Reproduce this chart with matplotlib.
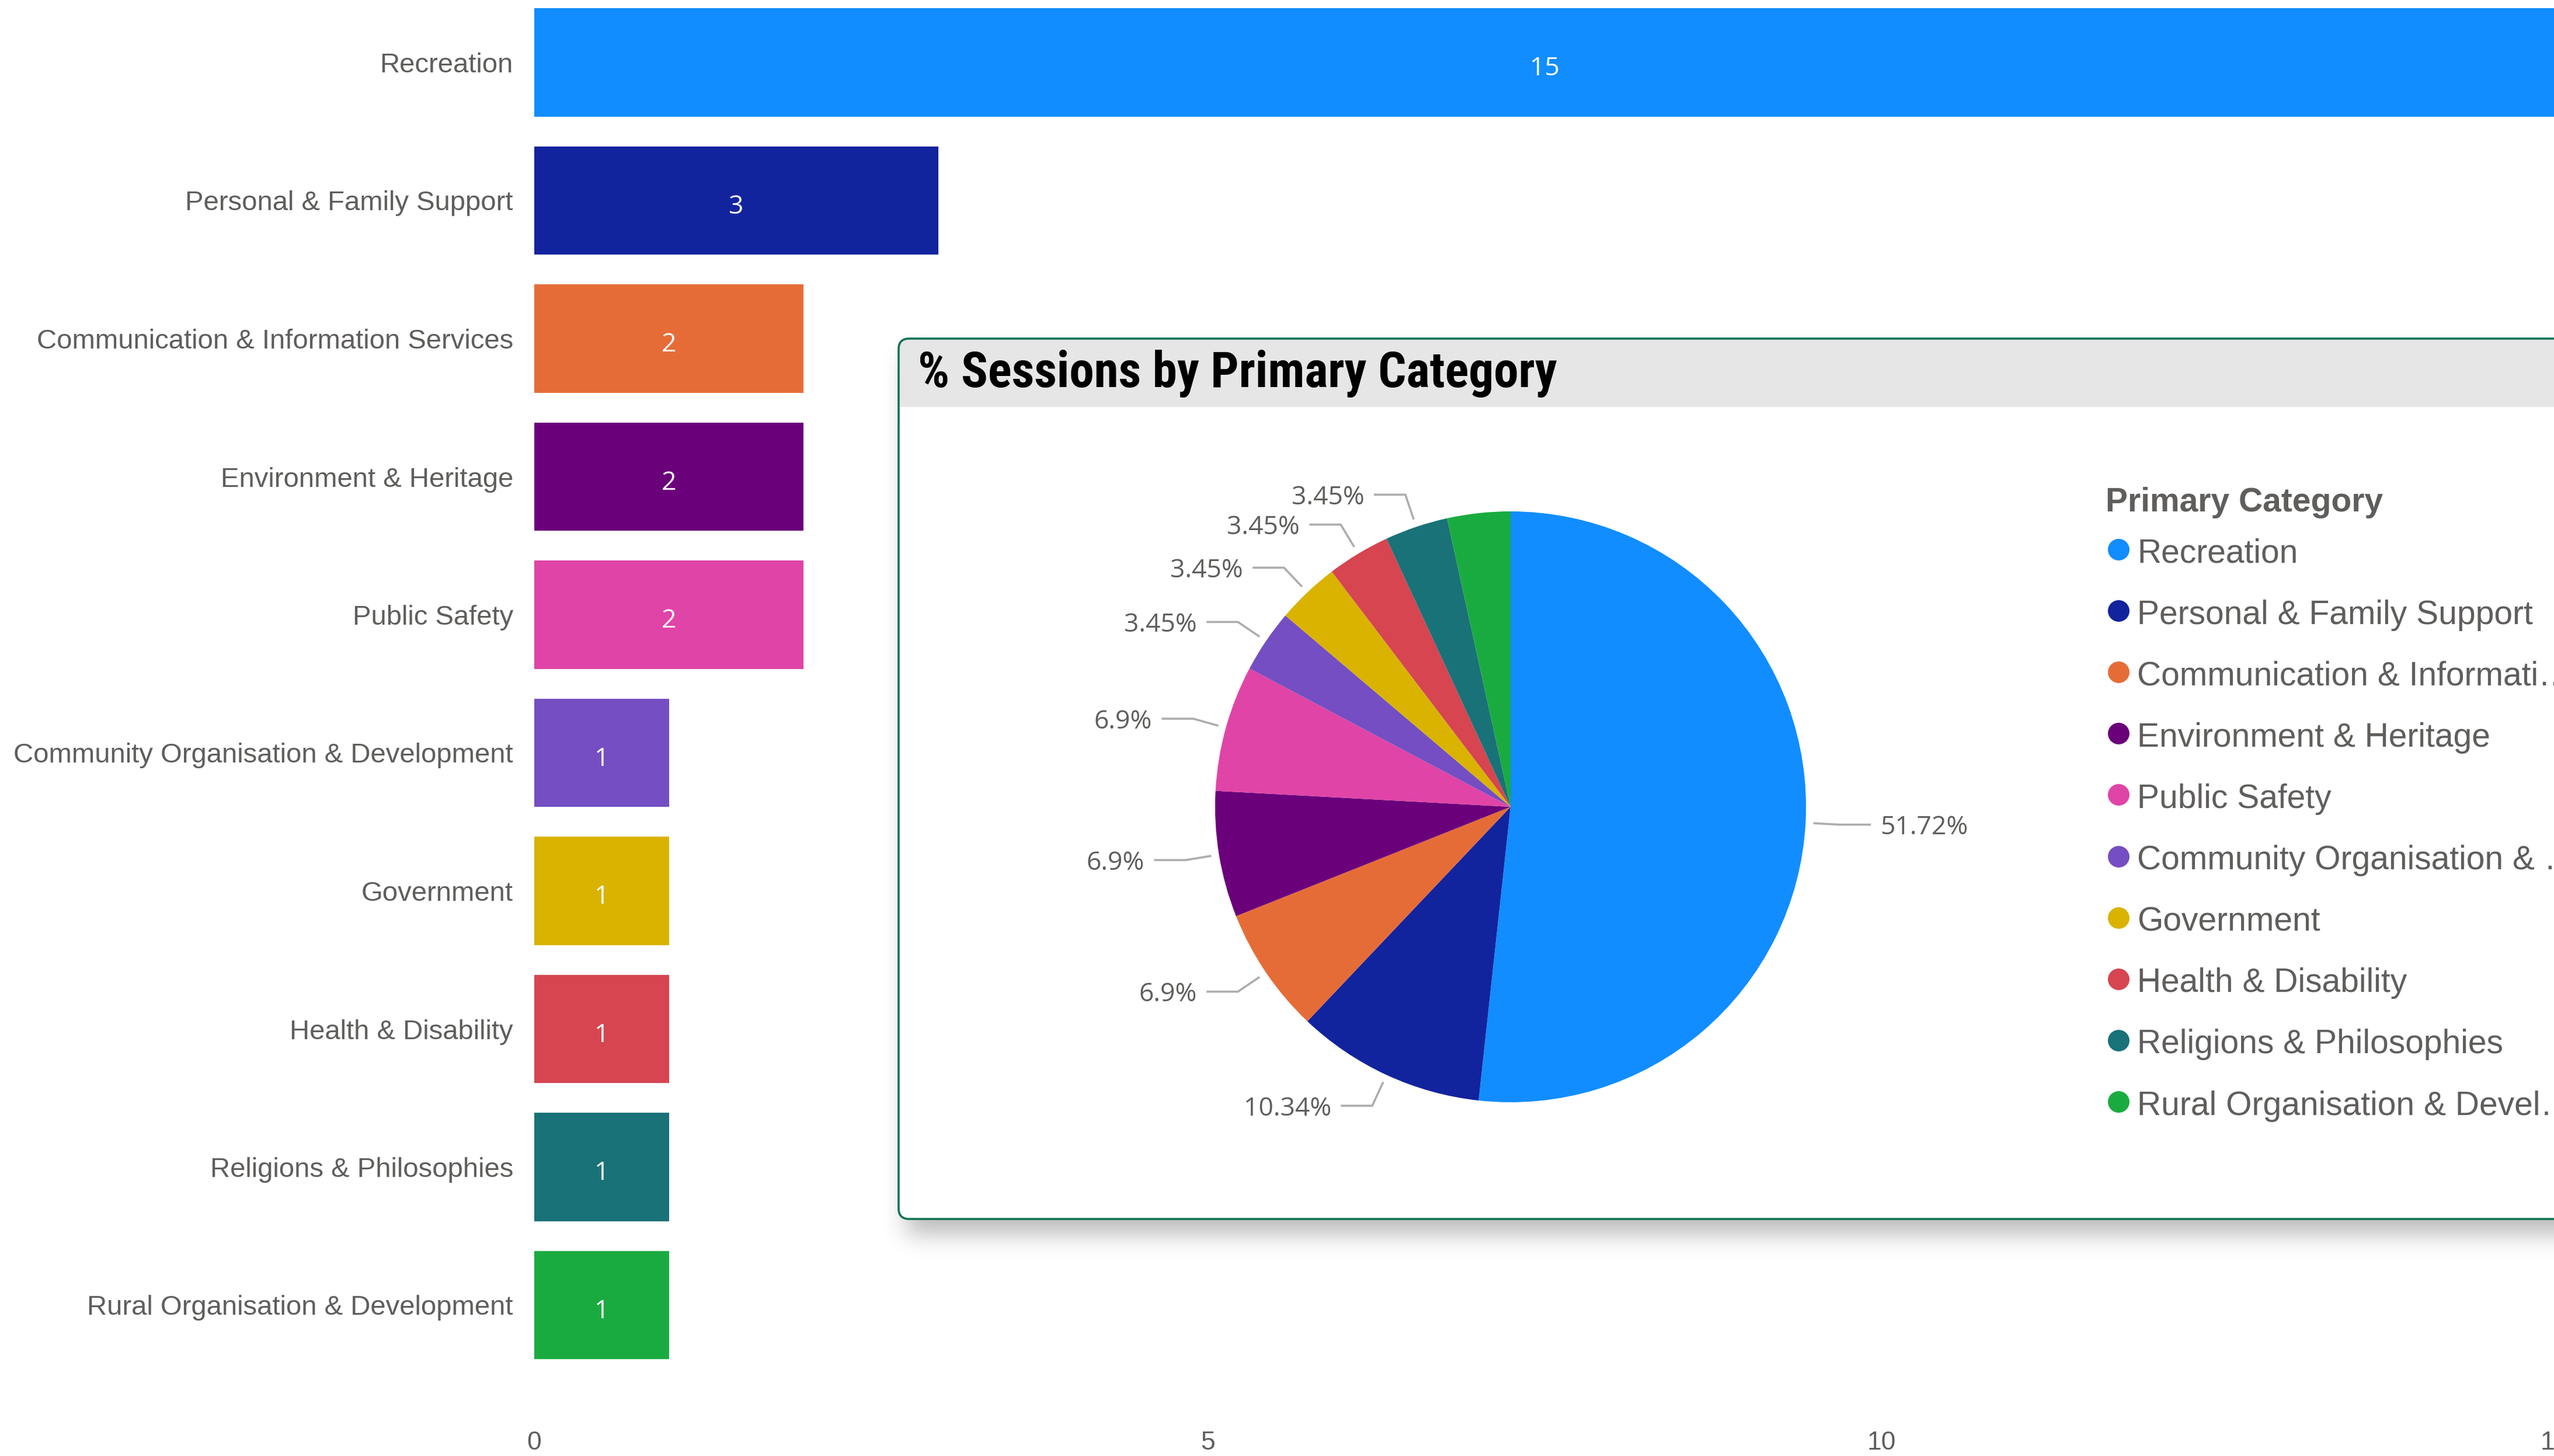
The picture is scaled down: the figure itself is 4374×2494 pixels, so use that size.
import math
import numpy as np
import matplotlib
matplotlib.use('Agg')
import matplotlib.pyplot as plt
from matplotlib.patches import FancyBboxPatch, Rectangle
from matplotlib import font_manager
from matplotlib.transforms import offset_copy

# ---------------- data ----------------
categories = ['Recreation', 'Personal & Family Support', 'Communication & Information Services',
              'Environment & Heritage', 'Public Safety', 'Community Organisation & Development',
              'Government', 'Health & Disability', 'Religions & Philosophies',
              'Rural Organisation & Development']
sessions = [15, 3, 2, 2, 2, 1, 1, 1, 1, 1]
colors = ['#118DFF', '#12239E', '#E66C37', '#6B007B', '#E044A7', '#744EC2',
          '#D9B300', '#D64550', '#197278', '#1AAB40']
legend_labels = ['Recreation', 'Personal & Family Support', 'Communication & Informati\u2026',
                 'Environment & Heritage', 'Public Safety', 'Community Organisation & \u2026',
                 'Government', 'Health & Disability', 'Religions & Philosophies',
                 'Rural Organisation & Devel\u2026']
x_ticks = [0, 5, 10, 15]
pie_title = '% Sessions by Primary Category'
legend_title = 'Primary Category'
pie_label_shown = [True, True, True, True, True, True, True, True, True, False]

# ---------------- figure ----------------
W, H = 4374, 2494
DPI = 100
fig = plt.figure(figsize=(W / DPI, H / DPI), dpi=DPI)
fig.patch.set_facecolor('white')
GRAY = '#605E5C'
LINE = '#ADADAD'


def Y(t):
    return H - t


# ---------------- bar chart ----------------
ax = fig.add_axes([915 / W, 1 - 2353.75 / H, 3460.5 / W, 2365 / H], zorder=0)
ypos = np.arange(len(categories))
ax.barh(ypos, sessions, height=0.786, color=colors, linewidth=0)
ax.set_ylim(len(categories) - 0.5, -0.5)
ax.set_xlim(0, 15)
ax.set_xticks(x_ticks)
ax.set_yticks(ypos, categories)
for s in ax.spines.values():
    s.set_visible(False)
ax.tick_params(axis='y', length=0, pad=26, labelsize=34, labelcolor=GRAY)
ax.tick_params(axis='x', length=0, pad=70, labelsize=32, labelcolor=GRAY)
for lbl in ax.get_yticklabels() + ax.get_xticklabels():
    lbl.set_fontfamily('Liberation Sans')
val_tr = offset_copy(ax.transData, fig=fig, x=0, y=-4, units='points')
for yi, v in zip(ypos, sessions):
    ax.text(v / 2, yi, str(v), color='white', ha='center', va='center_baseline',
            fontsize=32, family='Open Sans', transform=val_tr)

# ---------------- overlay (pixel coordinates) ----------------
ov = fig.add_axes([0, 0, 1, 1], zorder=5)
ov.set_xlim(0, W)
ov.set_ylim(0, H)
ov.axis('off')

px0, px1 = 1539, 4650
ptop, pbot = 580, 2088

# shadow
step = 4
sx = np.arange(0, W, step) + step / 2
sy = np.arange(0, H, step) + step / 2
erf = np.vectorize(math.erf)
sig = 20.0


def band(c, a, b, s):
    return 0.5 * (erf((c - a) / (s * math.sqrt(2))) - erf((c - b) / (s * math.sqrt(2))))


fx = band(sx, px0 + 14, px1, sig)
fy = band(sy, ptop + 30, pbot + 28, sig)
alpha = 0.27 * np.outer(fy, fx)
img = np.zeros((len(sy), len(sx), 4), dtype=np.float32)
img[..., 3] = alpha
ov.imshow(img, extent=(0, W, 0, H), origin='upper', zorder=1,
          interpolation='bilinear', aspect='auto')

rad = 18
ov.add_patch(FancyBboxPatch((px0, Y(pbot)), px1 - px0, pbot - ptop,
                            boxstyle=f'round,pad=0,rounding_size={rad}',
                            fc='white', ec='none', zorder=2))
ov.add_patch(FancyBboxPatch((px0, Y(730)), px1 - px0, 730 - ptop,
                            boxstyle=f'round,pad=0,rounding_size={rad}',
                            fc='#E6E6E6', ec='none', zorder=3))
ov.add_patch(Rectangle((px0 + 2, Y(760)), px1 - px0, 760 - 697,
                       fc='white', ec='none', zorder=3.5))
ov.add_patch(FancyBboxPatch((px0, Y(pbot)), px1 - px0, pbot - ptop,
                            boxstyle=f'round,pad=0,rounding_size={rad}',
                            fc='none', ec='#127357', lw=2.6, zorder=4))

# title with a condensed font if available
title_family = 'DejaVu Sans'
for fam in ['Liberation Sans Narrow', 'DejaVu Sans Condensed', 'Roboto Condensed', 'Roboto']:
    try:
        font_manager.findfont(font_manager.FontProperties(family=fam, weight='bold'),
                              fallback_to_default=False)
        title_family = fam
        break
    except Exception:
        pass
t = ov.text(1572, Y(663), pie_title, fontsize=56, weight='bold', family=title_family,
            color='black', ha='left', va='baseline', zorder=6)
renderer = fig.canvas.get_renderer()
w = t.get_window_extent(renderer).width
t.set_fontsize(56 * 1095 / w)

# pie
cx, cy, R = 2587, Y(1382), 506
ov.pie(sessions, colors=colors, startangle=90, counterclock=False, center=(cx, cy),
       radius=R, frame=True, wedgeprops=dict(linewidth=0, zorder=5))

total = sum(sessions)
theta = 90.0
for v, show in zip(sessions, pie_label_shown):
    frac = v / total
    mid = theta - frac * 180
    theta -= frac * 360
    if not show:
        continue
    a = math.radians(mid)
    ux, uy = math.cos(a), math.sin(a)
    p0 = (cx + 1.03 * R * ux, cy + 1.03 * R * uy)
    p1 = (cx + 1.115 * R * ux, cy + 1.115 * R * uy)
    side = 1 if ux > 0 else -1
    p2 = (p1[0] + side * 52, p1[1])
    ov.plot([p0[0], p1[0], p2[0]], [p0[1], p1[1], p2[1]], color=LINE, lw=2.6,
            solid_joinstyle='miter', zorder=6)
    ov.text(p2[0] + side * 18, p2[1], f'{round(frac * 100, 2):g}%',
            ha='left' if side > 0 else 'right', va='center_baseline',
            fontsize=32, family='Open Sans', color=GRAY, zorder=6)

# legend
ov.text(3606, Y(876), legend_title, weight='bold', fontsize=41, color=GRAY,
        family='Liberation Sans', ha='left', va='baseline', zorder=6)
for i, (lab, c) in enumerate(zip(legend_labels, colors)):
    yc = 941 + 105.1 * i
    ov.plot([3628], [Y(yc)], 'o', ms=26.6, color=c, mec='none', zorder=6)
    ov.text(3660, Y(yc + 22.6), lab, fontsize=41, color=GRAY, family='Liberation Sans',
            ha='left', va='baseline', zorder=6)

ov.set_xlim(0, W)
ov.set_ylim(0, H)
ov.set_aspect('auto')
ov.axis('off')

fig.savefig('out.png', dpi=DPI, facecolor='white')
